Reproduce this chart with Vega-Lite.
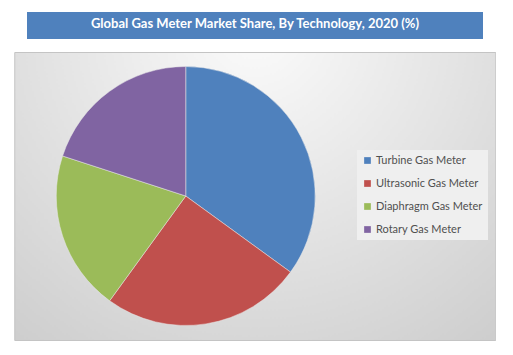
{
  "$schema": "https://vega.github.io/schema/vega-lite/v6.json",
  "padding": {"left": 13, "top": 12, "right": 0, "bottom": 0},
  "background": "#ffffff",
  "spacing": 12,
  "center": true,
  "datasets": {
    "title": [{"label": "Global Gas Meter Market Share, By Technology, 2020 (%)"}],
    "share": [
      {"technology": "Turbine Gas Meter", "share": 35, "rank": 1},
      {"technology": "Ultrasonic Gas Meter", "share": 25, "rank": 2},
      {"technology": "Diaphragm Gas Meter", "share": 20, "rank": 3},
      {"technology": "Rotary Gas Meter", "share": 20, "rank": 4}
    ]
  },
  "vconcat": [
    {
      "width": 456,
      "height": 27,
      "view": {"fill": "#4F81BD", "stroke": "#ffffff", "strokeWidth": 0},
      "data": {"name": "title"},
      "mark": {"type": "text", "font": "Lato", "fontWeight": "bold", "fontSize": 13, "color": "#ffffff", "baseline": "middle", "align": "center", "dy": -2},
      "encoding": {"text": {"field": "label"}}
    },
    {
      "width": 481,
      "height": 288,
      "view": {
        "stroke": "#c4c4c4",
        "strokeWidth": 1,
        "fill": {
          "gradient": "radial",
          "x1": 0.5, "y1": 0.15, "r1": 0,
          "x2": 0.5, "y2": 0.15, "r2": 0.95,
          "stops": [
            {"offset": 0, "color": "#fbfbfb"},
            {"offset": 0.55, "color": "#dedede"},
            {"offset": 1, "color": "#c6c6c6"}
          ]
        }
      },
      "data": {"name": "share"},
      "mark": {"type": "arc", "outerRadius": 129.5, "x": 171.5, "y": 144, "stroke": "#e8e8e8", "strokeWidth": 0.5},
      "encoding": {
        "theta": {"field": "share", "type": "quantitative", "stack": true},
        "order": {"field": "rank", "type": "quantitative", "sort": "ascending"},
        "color": {
          "field": "technology",
          "type": "nominal",
          "scale": {
            "domain": ["Turbine Gas Meter", "Ultrasonic Gas Meter", "Diaphragm Gas Meter", "Rotary Gas Meter"],
            "range": ["#4F81BD", "#C0504D", "#9BBB59", "#8064A2"]
          },
          "legend": {
            "title": null,
            "orient": "none",
            "legendX": 343,
            "legendY": 138,
            "fillColor": "#efefef",
            "padding": 5,
            "symbolType": "square",
            "symbolSize": 45,
            "symbolStrokeWidth": 0,
            "symbolOffset": 0,
            "labelFont": "Lato",
            "labelFontSize": 11,
            "labelColor": "#505050",
            "labelOffset": 3,
            "rowPadding": 11
          }
        }
      }
    }
  ]
}
